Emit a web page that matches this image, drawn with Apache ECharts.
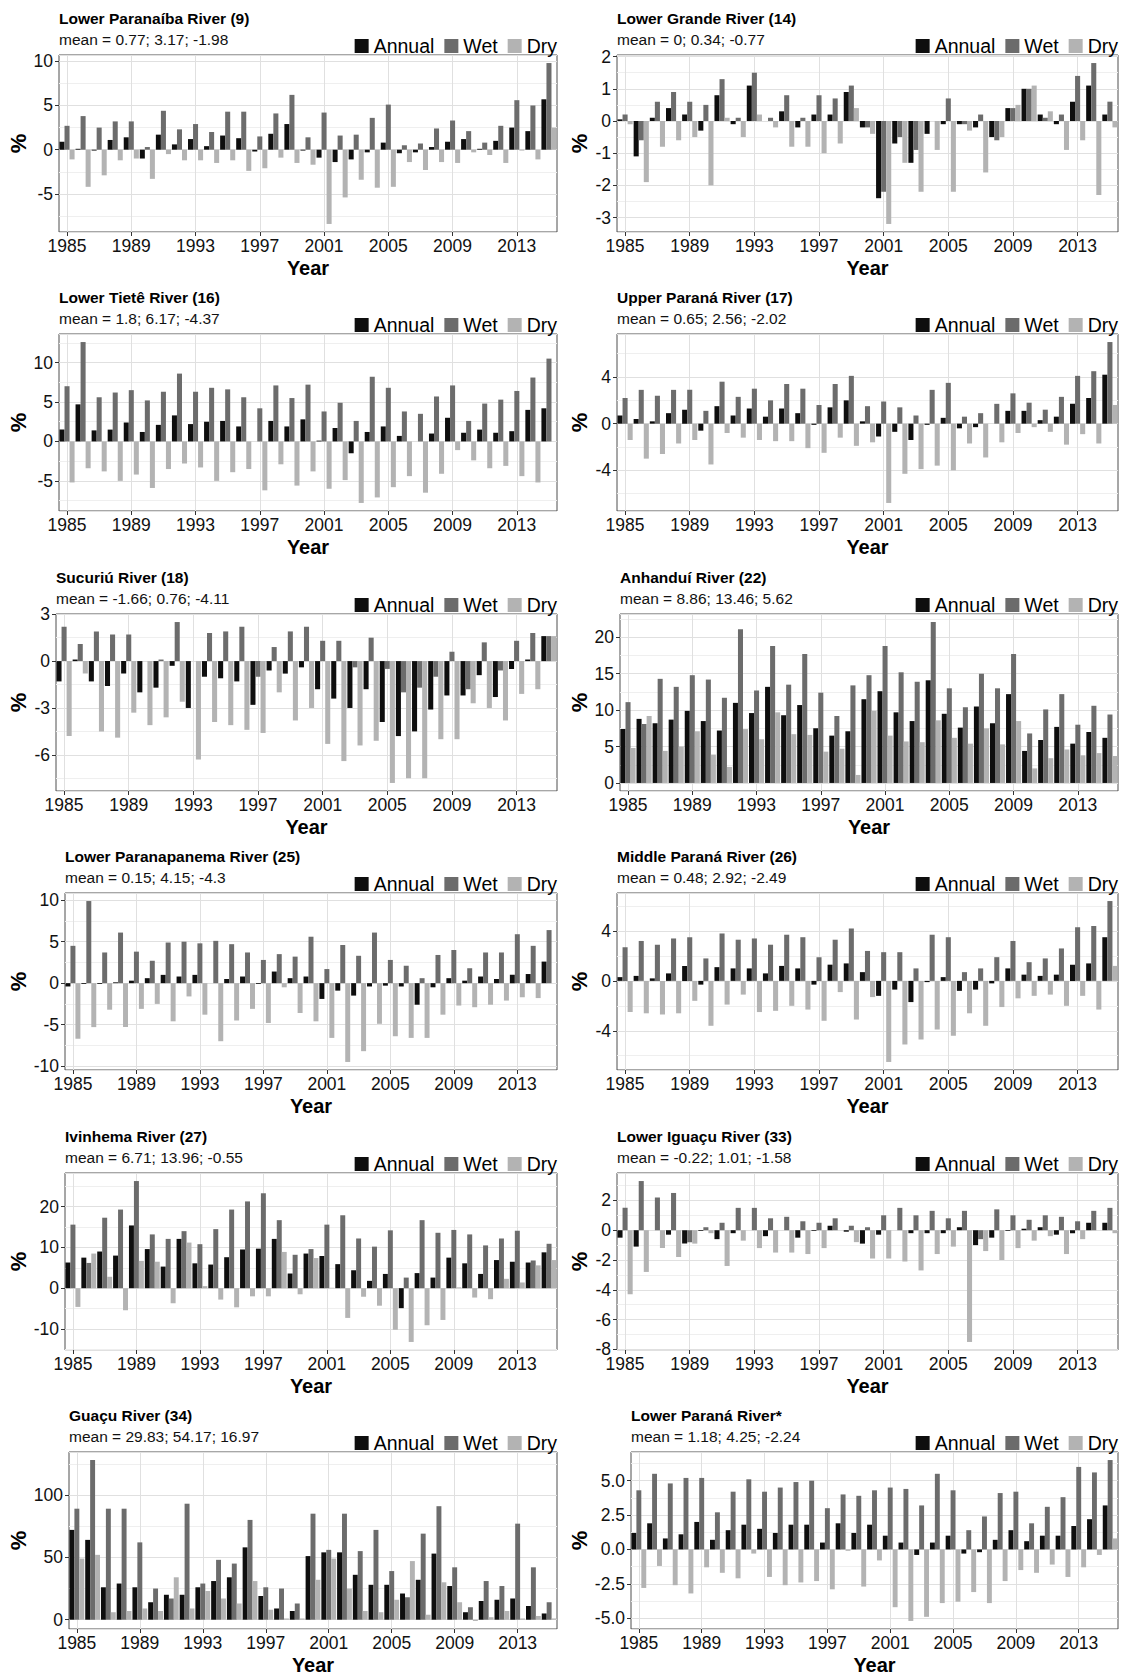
<!DOCTYPE html>
<html>
<head>
<meta charset="utf-8">
<title>Annual, wet and dry season change by river</title>
<script src="https://cdn.jsdelivr.net/npm/echarts@6/dist/echarts.min.js"></script>
<style>
  body { margin: 0; background: #fff; }
  #page { position: relative; width: 1121px; height: 1676px; overflow: hidden; }
  .panel { position: absolute; width: 560px; height: 279px; }
</style>
</head>
<body>
<div id="page"></div>
<script>
var years = ['1985', '1986', '1987', '1988', '1989', '1990', '1991', '1992', '1993', '1994', '1995',
  '1996', '1997', '1998', '1999', '2000', '2001', '2002', '2003', '2004', '2005', '2006', '2007',
  '2008', '2009', '2010', '2011', '2012', '2013', '2014', '2015'];

// Lower Paranaiba River (9)
var paranaibaAnnual = [0.9, 0.1, -0.1, 1.1, 1.4, -1.0, 1.7, 0.6, 1.2, 0.4, 1.6, 1.3, -0.2, 1.8, 2.9, -0.1, -0.9, -1.4, -1.1, -0.3, 0.8, -0.4, -0.3, 0.3, 0.9, 1.2, 0.1, 1.0, 2.5, 2.1, 5.7];
var paranaibaWet = [2.7, 3.8, 2.5, 3.2, 3.2, 0.3, 4.4, 2.3, 2.9, 2.0, 4.3, 4.3, 1.5, 4.1, 6.2, 1.4, 4.2, 1.6, 1.7, 3.6, 5.1, 0.5, 0.7, 2.4, 3.3, 2.1, 0.8, 2.7, 5.6, 5.0, 9.8];
var paranaibaDry = [-1.1, -4.2, -2.9, -1.2, -1.0, -3.3, -0.5, -1.2, -1.2, -1.5, -1.2, -2.4, -2.1, -0.9, -1.5, -1.7, -8.4, -5.4, -3.4, -4.3, -4.2, -1.4, -2.3, -1.4, -1.5, -0.3, -0.6, -1.5, -0.1, -1.1, 2.5];

// Lower Grande River (14)
var grandeAnnual = [0.05, -1.1, 0.1, 0.4, 0.2, -0.3, 0.8, -0.1, 1.1, 0.0, 0.3, -0.2, 0.2, 0.2, 0.9, -0.2, -2.4, -0.7, -1.3, -0.4, -0.1, -0.1, -0.2, -0.5, 0.4, 1.0, 0.2, -0.1, 0.6, 1.1, 0.2];
var grandeWet = [0.2, -0.6, 0.6, 0.9, 0.6, 0.5, 1.3, 0.1, 1.5, 0.1, 0.8, 0.1, 0.8, 0.7, 1.1, -0.2, -2.2, -0.5, -0.9, 0.0, 0.7, -0.1, 0.2, -0.6, 0.4, 1.0, 0.1, 0.2, 1.4, 1.8, 0.6];
var grandeDry = [-0.1, -1.9, -0.8, -0.6, -0.5, -2.0, 0.1, -0.5, 0.2, -0.2, -0.8, -0.8, -1.0, -0.7, 0.4, -0.4, -3.2, -1.3, -2.2, -0.9, -2.2, -0.3, -1.6, -0.5, 0.5, 1.1, 0.3, -0.9, -0.6, -2.3, -0.2];

// Lower Tiete River (16)
var tieteAnnual = [1.5, 4.7, 1.4, 1.5, 2.4, 1.2, 2.1, 3.3, 2.2, 2.5, 2.6, 1.9, 0.0, 2.6, 1.9, 2.8, 0.1, 1.7, -1.5, 1.2, 1.9, 0.7, 0.0, 1.0, 3.0, 1.1, 1.5, 1.1, 1.3, 4.0, 4.2];
var tieteWet = [7.0, 12.6, 5.6, 6.2, 6.5, 5.2, 6.3, 8.6, 6.3, 6.8, 6.6, 5.6, 4.2, 7.1, 5.5, 7.2, 3.8, 4.9, 2.6, 8.2, 6.8, 3.8, 3.5, 5.7, 7.1, 2.6, 4.8, 5.3, 6.4, 8.1, 10.5];
var tieteDry = [-5.2, -3.4, -3.8, -5.0, -4.2, -5.9, -3.5, -2.8, -3.3, -5.0, -3.9, -3.5, -6.2, -2.9, -5.6, -3.8, -6.0, -4.9, -7.8, -7.1, -5.8, -4.4, -6.5, -4.1, -1.1, -2.4, -3.4, -3.1, -4.4, -5.2, 0.0];

// Upper Parana River (17)
var upperParanaAnnual = [0.7, 0.4, 0.2, 0.9, 1.2, -0.6, 1.5, 0.7, 1.3, 0.6, 1.3, 0.9, -0.1, 1.4, 2.0, 0.2, -1.1, -0.7, -1.4, -0.1, 0.5, -0.4, -0.3, 0.0, 1.1, 1.1, 0.3, 0.6, 1.7, 2.2, 4.2];
var upperParanaWet = [2.2, 2.9, 2.4, 2.9, 2.9, 1.1, 3.6, 2.3, 3.0, 2.0, 3.4, 3.0, 1.6, 3.4, 4.1, 1.5, 1.9, 1.4, 0.7, 2.9, 3.5, 0.6, 0.9, 1.7, 2.6, 1.8, 1.2, 2.3, 4.1, 4.5, 7.0];
var upperParanaDry = [-1.4, -3.0, -2.6, -1.7, -1.4, -3.5, -0.8, -1.2, -1.4, -1.5, -1.5, -2.1, -2.5, -1.2, -1.9, -1.6, -6.8, -4.3, -3.9, -3.6, -4.0, -1.7, -2.9, -1.6, -0.8, -0.3, -0.7, -1.8, -0.9, -1.7, 1.6];

// Sucuriu River (18)
var sucuriuAnnual = [-1.3, 0.1, -1.3, -1.6, -0.8, -2.0, -1.7, -0.3, -3.0, -1.0, -1.1, -1.3, -2.8, -0.6, -0.8, -0.4, -1.8, -2.4, -3.0, -1.8, -3.9, -4.8, -4.5, -3.1, -2.2, -2.2, -0.9, -2.3, -0.5, 0.1, 1.6];
var sucuriuWet = [2.2, 1.1, 1.9, 1.7, 1.7, 0.0, 0.1, 2.5, 0.0, 1.8, 1.9, 2.2, -1.0, 0.9, 1.9, 2.2, 1.3, 1.3, -0.4, 1.5, -0.5, -2.0, -1.7, -1.0, 0.6, -1.8, 1.2, -0.6, 1.3, 1.8, 1.6];
var sucuriuDry = [-4.8, -0.8, -4.5, -4.9, -3.3, -4.1, -3.6, -2.6, -6.3, -3.9, -4.1, -4.4, -4.6, -2.0, -3.8, -3.0, -5.3, -6.4, -5.4, -5.1, -7.8, -7.5, -7.5, -5.0, -5.0, -2.7, -3.0, -3.8, -2.1, -1.8, 1.6];

// Anhandui River (22)
var anhanduiAnnual = [7.4, 8.8, 8.2, 8.7, 9.9, 8.5, 7.2, 11.0, 9.6, 13.2, 9.3, 10.7, 7.5, 6.5, 7.1, 11.5, 12.6, 9.7, 8.5, 14.1, 9.5, 7.6, 10.5, 8.2, 12.2, 4.4, 5.9, 7.7, 5.4, 7.0, 6.2];
var anhanduiWet = [11.1, 8.1, 14.3, 13.2, 14.8, 14.2, 11.7, 21.1, 12.7, 18.8, 13.5, 17.7, 12.4, 9.2, 13.4, 14.8, 18.8, 15.2, 13.9, 22.1, 13.0, 10.4, 15.0, 13.0, 17.7, 6.8, 10.1, 12.2, 8.0, 10.6, 9.4];
var anhanduiDry = [4.8, 9.2, 4.4, 5.0, 7.1, 3.9, 2.2, 7.4, 6.0, 9.7, 6.7, 6.6, 4.3, 4.7, 1.1, 9.9, 6.5, 5.7, 5.6, 8.6, 6.2, 5.4, 7.5, 5.3, 8.5, 2.0, 3.4, 4.6, 3.8, 4.1, 3.7];

// Lower Paranapanema River (25)
var paranapanemaAnnual = [-0.4, -0.1, -0.1, 0.1, 0.3, 0.6, 1.0, 0.8, 1.0, 0.0, 0.5, 0.8, -0.1, 1.4, 0.6, 0.8, -1.9, -0.9, -1.5, -0.4, -0.3, -0.4, -2.6, -0.5, 0.6, 0.3, 0.8, 0.5, 1.0, 1.1, 2.6];
var paranapanemaWet = [4.5, 9.9, 3.7, 6.1, 3.8, 2.7, 4.9, 5.0, 4.8, 5.1, 4.7, 3.7, 2.8, 3.5, 3.2, 5.6, 1.7, 4.6, 3.3, 6.1, 2.8, 2.1, 0.6, 3.4, 4.0, 1.8, 3.7, 3.7, 5.9, 4.5, 6.4];
var paranapanemaDry = [-6.7, -5.3, -3.2, -5.3, -3.1, -2.5, -4.6, -1.6, -3.8, -7.0, -4.5, -3.1, -4.8, -0.5, -3.6, -4.6, -6.6, -9.5, -8.2, -4.9, -6.4, -6.6, -6.6, -3.8, -2.7, -2.9, -2.6, -2.1, -1.7, -1.8, 0.0];

// Middle Parana River (26)
var middleParanaAnnual = [0.3, 0.4, 0.2, 0.6, 1.2, -0.3, 1.1, 1.0, 1.0, 0.6, 1.2, 1.0, -0.3, 1.3, 1.4, 0.7, -1.2, -0.7, -1.7, -0.1, 0.3, -0.8, -0.7, -0.2, 1.0, 0.5, 0.4, 0.5, 1.3, 1.4, 3.5];
var middleParanaWet = [2.7, 3.2, 2.9, 3.4, 3.5, 1.8, 3.8, 3.3, 3.4, 2.9, 3.7, 3.5, 1.9, 3.3, 4.2, 2.4, 2.3, 2.3, 1.0, 3.7, 3.5, 0.7, 1.0, 1.9, 3.2, 1.5, 1.8, 2.6, 4.3, 4.4, 6.4];
var middleParanaDry = [-2.5, -2.6, -2.7, -2.6, -1.6, -3.6, -1.9, -1.1, -2.5, -2.4, -2.0, -2.3, -3.2, -0.9, -3.1, -1.3, -6.5, -5.1, -4.7, -3.9, -4.4, -2.6, -3.6, -2.1, -1.4, -1.2, -1.1, -2.0, -1.2, -2.3, 1.2];

// Ivinhema River (27)
var ivinhemaAnnual = [6.3, 7.5, 9.0, 8.0, 15.4, 9.6, 5.3, 12.1, 6.1, 5.8, 7.6, 9.5, 9.7, 12.1, 3.6, 8.5, 7.9, 5.9, 4.4, 1.8, 3.5, -4.9, 3.7, 2.6, 7.5, 6.1, 3.5, 6.9, 6.5, 6.3, 8.8];
var ivinhemaWet = [15.6, 6.2, 17.3, 19.3, 26.3, 13.2, 12.1, 14.0, 10.8, 14.5, 19.3, 21.3, 23.3, 16.7, 8.2, 9.6, 15.6, 17.9, 12.2, 10.2, 14.2, 2.6, 16.7, 13.6, 14.3, 13.2, 10.5, 12.2, 14.1, 6.8, 10.9];
var ivinhemaDry = [-4.6, 8.5, 2.8, -5.4, 6.7, 6.5, -3.7, 11.2, 0.5, -2.8, -4.7, -2.0, -2.0, 8.9, -1.5, 7.4, 0.1, -7.3, -2.1, -4.3, -10.2, -13.2, -9.1, -7.8, 0.2, -2.3, -2.7, 2.3, 1.4, 5.6, 6.9];

// Lower Iguacu River (33)
var iguacuAnnual = [-0.5, -1.1, 0.0, -0.3, -0.9, -0.05, -0.6, -0.2, 0.0, -0.4, 0.0, -0.5, -0.05, 0.3, -0.1, -0.9, -0.3, 0.0, -0.2, -0.2, -0.2, 0.2, -1.0, -0.5, -0.05, 0.1, 0.2, -0.3, -0.2, 0.5, 0.5];
var iguacuWet = [1.5, 3.3, 2.2, 2.5, -0.8, 0.2, 0.5, 1.5, 1.5, 0.8, 0.9, 0.6, 0.5, 0.8, 0.3, 0.2, 1.0, 1.5, 1.0, 1.3, 0.8, 1.3, -0.6, 1.4, 1.0, 0.7, 1.0, 0.9, 0.6, 1.3, 1.5];
var iguacuDry = [-4.3, -2.8, -1.2, -1.8, -0.9, -0.2, -2.4, -0.7, -1.2, -1.5, -1.5, -1.6, -1.2, 0.0, -0.8, -1.9, -1.9, -2.1, -2.7, -1.6, -1.1, -7.5, -1.4, -2.0, -1.2, -0.7, -0.4, -1.6, -0.6, 0.0, -0.2];

// Guacu River (34)
var guacuAnnual = [72, 64, 26, 29, 26, 14, 20, 20, 26, 31, 34, 58, 19, 9, 7, 51, 54, 54, 36, 28, 28, 21, 32, 53, 27, 6, 15, 16, 17, 11, 5];
var guacuWet = [89, 128, 89, 89, 62, 25, 17, 93, 29, 48, 45, 80, 26, 25, 13, 85, 56, 85, 55, 72, 39, 18, 69, 91, 42, 10, 31, 27, 77, 42, 14];
var guacuDry = [49, 52, 6, 7, 9, 7, 34, 9, 23, 17, 13, 31, 8, 1, 1, 32, 49, 25, 7, 6, 16, 47, 4, 30, 14, -1, 2, 7, 1, 3, 1];

// Lower Parana River*
var lowerParanaAnnual = [1.2, 1.9, 0.8, 1.1, 2.0, 0.7, 1.4, 1.8, 1.5, 1.2, 1.8, 1.8, 0.5, 1.9, 1.2, 1.8, 1.0, 0.5, -0.4, 0.5, 1.0, -0.3, -0.2, 0.7, 1.4, 0.6, 1.0, 1.0, 1.7, 2.2, 3.2];
var lowerParanaWet = [4.3, 5.5, 4.8, 5.2, 5.2, 2.7, 4.2, 5.1, 4.2, 4.5, 4.9, 5.0, 3.0, 4.0, 3.9, 4.3, 4.5, 4.4, 3.2, 5.5, 4.3, 1.4, 2.4, 4.1, 4.2, 1.9, 3.1, 3.8, 6.0, 5.6, 6.5];
var lowerParanaDry = [-2.8, -1.2, -2.6, -3.2, -1.3, -1.7, -2.1, -0.3, -2.0, -2.6, -2.4, -2.3, -2.9, -0.1, -2.7, -0.8, -4.2, -5.2, -4.9, -3.9, -3.8, -3.1, -3.9, -2.3, -1.5, -1.7, -1.1, -2.0, -1.3, -0.4, 0.8];

var seriesNames = ['Annual', 'Wet', 'Dry'];
var seriesColors = ['#0e0e0e', '#6c6c6c', '#b3b3b3'];

// one entry per panel: title, mean line, y tick step
var panels = [
  { title: 'Lower Paranaíba River (9)', mean: 'mean = 0.77; 3.17; -1.98', step: 5, data: [paranaibaAnnual, paranaibaWet, paranaibaDry] },
  { title: 'Lower Grande River (14)', mean: 'mean = 0; 0.34; -0.77', step: 1, data: [grandeAnnual, grandeWet, grandeDry] },
  { title: 'Lower Tietê River (16)', mean: 'mean = 1.8; 6.17; -4.37', step: 5, data: [tieteAnnual, tieteWet, tieteDry] },
  { title: 'Upper Paraná River (17)', mean: 'mean = 0.65; 2.56; -2.02', step: 4, data: [upperParanaAnnual, upperParanaWet, upperParanaDry] },
  { title: 'Sucuriú River (18)', mean: 'mean = -1.66; 0.76; -4.11', step: 3, data: [sucuriuAnnual, sucuriuWet, sucuriuDry] },
  { title: 'Anhanduí River (22)', mean: 'mean = 8.86; 13.46; 5.62', step: 5, data: [anhanduiAnnual, anhanduiWet, anhanduiDry] },
  { title: 'Lower Paranapanema River (25)', mean: 'mean = 0.15; 4.15; -4.3', step: 5, data: [paranapanemaAnnual, paranapanemaWet, paranapanemaDry] },
  { title: 'Middle Paraná River (26)', mean: 'mean = 0.48; 2.92; -2.49', step: 4, data: [middleParanaAnnual, middleParanaWet, middleParanaDry] },
  { title: 'Ivinhema River (27)', mean: 'mean = 6.71; 13.96; -0.55', step: 10, data: [ivinhemaAnnual, ivinhemaWet, ivinhemaDry] },
  { title: 'Lower Iguaçu River (33)', mean: 'mean = -0.22; 1.01; -1.58', step: 2, data: [iguacuAnnual, iguacuWet, iguacuDry] },
  { title: 'Guaçu River (34)', mean: 'mean = 29.83; 54.17; 16.97', step: 50, data: [guacuAnnual, guacuWet, guacuDry] },
  { title: 'Lower Paraná River*', mean: 'mean = 1.18; 4.25; -2.24', step: 2.5, data: [lowerParanaAnnual, lowerParanaWet, lowerParanaDry] }
];

var FONT = '"Liberation Sans", Arial, Helvetica, sans-serif';
var PANEL_W = 560, PANEL_H = 279;
var PLOT_TOP = 55, PLOT_BOTTOM = 232, PLOT_RIGHT = 557;
var TICK_SIZE = 17.5;

var measureCtx = document.createElement('canvas').getContext('2d');
measureCtx.font = TICK_SIZE + 'px ' + FONT;

function fmt(step) {
  return function (v) {
    return step % 1 ? v.toFixed(1) : String(v);
  };
}

function buildOption(p) {
  // ggplot style range: data plus zero, expanded by 5% each side
  var all = [0].concat(p.data[0], p.data[1], p.data[2]);
  var lo = Math.min.apply(null, all), hi = Math.max.apply(null, all);
  var pad = (hi - lo) * 0.05;
  lo -= pad; hi += pad;

  var f = fmt(p.step);
  var maxW = 0;
  for (var t = Math.ceil(lo / p.step) * p.step; t <= hi; t += p.step) {
    maxW = Math.max(maxW, measureCtx.measureText(f(Math.round(t * 10) / 10)).width);
  }
  var left = Math.round(40 + maxW);

  return {
    animation: false,
    textStyle: { fontFamily: FONT },
    grid: {
      left: left, right: PANEL_W - PLOT_RIGHT, top: PLOT_TOP, bottom: PANEL_H - PLOT_BOTTOM,
      show: true, borderColor: '#4f4f4f', borderWidth: 1
    },
    legend: {
      data: seriesNames, right: 3, top: 36, padding: 0,
      icon: 'rect', itemWidth: 14, itemHeight: 14, itemGap: 10,
      itemStyle: { borderWidth: 0 },
      textStyle: { fontSize: 19.5, color: '#000', fontFamily: FONT }
    },
    graphic: [
      { type: 'text', x: left, y: 18, style: { text: p.title, font: 'bold 15.5px ' + FONT, fill: '#000', verticalAlign: 'middle' } },
      { type: 'text', x: left, y: 39.5, style: { text: p.mean, font: '15.5px ' + FONT, fill: '#111', verticalAlign: 'middle' } },
      { type: 'text', x: 18, y: (PLOT_TOP + PLOT_BOTTOM) / 2, rotation: Math.PI / 2, style: { text: '%', font: 'bold 22px ' + FONT, fill: '#000', align: 'center', verticalAlign: 'middle' } },
      { type: 'text', x: (left + PLOT_RIGHT) / 2, y: 268, style: { text: 'Year', font: 'bold 20px ' + FONT, fill: '#000', align: 'center', verticalAlign: 'middle' } }
    ],
    xAxis: {
      type: 'category', data: years, position: 'bottom',
      axisLine: { show: false, onZero: false },
      axisTick: { show: true, alignWithLabel: true, interval: 3, length: 4, lineStyle: { color: '#333' } },
      axisLabel: { interval: 3, fontSize: TICK_SIZE, color: '#111', margin: 5 },
      splitLine: { show: true, interval: 3, alignWithLabel: true, lineStyle: { color: '#e0e0e0', width: 1 } }
    },
    yAxis: {
      type: 'value', min: lo, max: hi, minInterval: p.step, maxInterval: p.step,
      axisLine: { show: false },
      axisTick: { show: true, length: 4, lineStyle: { color: '#333' } },
      axisLabel: { fontSize: TICK_SIZE, color: '#111', margin: 6, showMinLabel: false, showMaxLabel: false, formatter: f },
      splitLine: { show: true, lineStyle: { color: '#e0e0e0', width: 1 } },
      minorTick: { show: false, splitNumber: 2 },
      minorSplitLine: { show: true, lineStyle: { color: '#efefef', width: 1 } }
    },
    series: seriesNames.map(function (name, k) {
      return {
        name: name, type: 'bar', data: p.data[k],
        barGap: '0%', barCategoryGap: '6%',
        itemStyle: { color: seriesColors[k] },
        emphasis: { disabled: true }, silent: true
      };
    })
  };
}

var page = document.getElementById('page');
panels.forEach(function (p, i) {
  var div = document.createElement('div');
  div.className = 'panel';
  div.style.left = (i % 2) * 561 + 'px';
  div.style.top = Math.floor(i / 2) * 279.4 + 'px';
  page.appendChild(div);
  var chart = echarts.init(div, null, { renderer: 'svg' });
  chart.setOption(buildOption(p));
});
</script>
</body>
</html>
